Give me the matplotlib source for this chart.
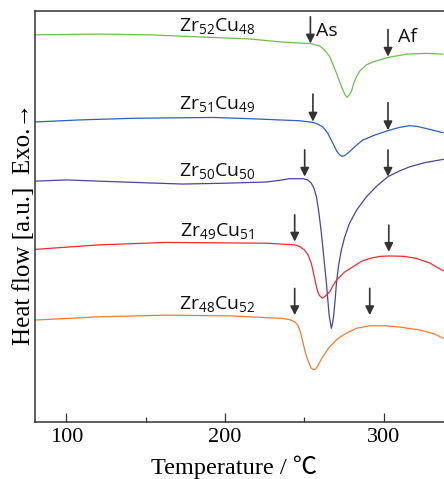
import numpy as np
import matplotlib
matplotlib.use("Agg")
import matplotlib.pyplot as plt

plt.rcParams['mathtext.fontset'] = 'custom'
plt.rcParams['mathtext.rm'] = 'Open Sans'
plt.rcParams['mathtext.it'] = 'Open Sans'

# DSC heating curves, temperature (C) vs heat flow (a.u., offset per curve)
t_52 = [80.0, 121.0, 152.5, 184.0, 215.6, 234.4, 247.1, 253.8, 259.7, 262.8, 266.0, 267.9, 270.2,
        272.3, 274.2, 275.7, 276.9, 278.3, 279.6, 281.1, 282.8, 284.9, 289.1, 293.1, 297.5,
        302.7, 314.3, 326.9, 337.2]
hf_52 = [94.2, 94.4, 94.2, 93.7, 93.2, 92.5, 92.2, 92.1, 91.5, 90.5, 88.9, 87.1, 84.9,
         82.7, 80.8, 79.6, 79.0, 79.6, 80.4, 82.4, 84.0, 85.4, 86.9, 87.6, 88.1,
         88.7, 89.5, 89.7, 89.5]

t_51 = [80.0, 108.4, 141.8, 192.2, 215.6, 234.4, 247.1, 255.4, 258.4, 261.6, 264.7, 267.9, 270.4,
        272.0, 273.3, 274.8, 276.0, 278.5, 282.4, 286.8, 294.3, 302.7, 310.1, 316.4, 321.4,
        325.8, 332.1, 337.2]
hf_51 = [73.0, 73.5, 73.9, 74.1, 73.8, 73.5, 73.3, 72.9, 72.5, 71.8, 70.3, 67.9, 65.9,
         65.1, 64.7, 64.7, 65.0, 65.8, 67.2, 68.6, 69.8, 70.9, 71.7, 72.1, 71.9,
         71.5, 70.9, 70.4]

t_50 = [80.0, 100.0, 121.0, 150.0, 173.3, 200.0, 226.1, 234.4, 240.7, 249.1, 252.1, 254.4, 256.0,
        257.6, 259.1, 260.7, 262.3, 263.9, 265.6, 267.0, 267.9, 268.5, 269.4, 270.2, 271.6,
        273.3, 275.4, 278.5, 283.0, 289.1, 295.6, 302.7, 310.1, 316.4, 325.8, 337.4]
hf_50 = [58.6, 58.9, 58.6, 58.2, 57.9, 58.1, 58.4, 58.8, 59.2, 59.2, 58.9, 58.1, 56.9,
         54.8, 51.1, 46.0, 39.9, 33.8, 26.0, 22.8, 24.3, 26.0, 29.7, 33.8, 38.2,
         41.8, 45.0, 48.4, 51.6, 54.8, 57.4, 59.7, 61.1, 62.1, 63.1, 63.9]

t_49 = [80.0, 121.0, 163.0, 226.1, 243.9, 247.1, 250.2, 252.4, 254.4, 255.9, 257.6, 258.7, 259.7,
        261.4, 263.4, 266.0, 267.9, 270.2, 275.4, 280.7, 286.1, 291.2, 297.5, 303.8, 313.2,
        320.6, 329.0, 337.4]
hf_49 = [42.0, 43.1, 43.7, 43.5, 43.1, 42.7, 41.8, 40.6, 38.6, 36.0, 32.9, 31.4, 30.7,
         30.1, 30.7, 31.7, 33.1, 34.5, 36.5, 37.8, 39.1, 39.8, 40.3, 40.4, 40.3,
         39.8, 38.7, 36.8]

t_48 = [80.0, 121.0, 163.0, 204.8, 236.3, 240.7, 243.9, 245.8, 247.1, 248.6, 250.2, 251.5, 252.7,
        254.3, 255.9, 257.1, 258.4, 260.0, 261.7, 265.3, 270.2, 275.4, 282.8, 291.2, 301.7,
        310.1, 322.7, 332.1, 337.4]
hf_48 = [24.8, 25.6, 26.0, 25.8, 25.2, 24.9, 24.4, 23.6, 22.4, 20.2, 17.5, 15.8, 14.6,
         13.1, 12.7, 12.9, 13.6, 14.8, 15.9, 18.0, 20.0, 21.4, 22.8, 23.4, 23.4,
         23.1, 22.4, 21.4, 20.4]

labels = [r'$\mathrm{Zr_{52}Cu_{48}}$', r'$\mathrm{Zr_{51}Cu_{49}}$', r'$\mathrm{Zr_{50}Cu_{50}}$',
          r'$\mathrm{Zr_{49}Cu_{51}}$', r'$\mathrm{Zr_{48}Cu_{52}}$']
label_y = [96.4, 77.4, 61.1, 46.5, 28.8]
colors = ['#6cc04a', '#2d5fb8', '#4b43a0', '#ee2d2d', '#f47c30']

# As / Af arrow positions (temperature, top of arrow, tip of arrow)
as_t = [253.8, 255.4, 250.2, 243.9, 243.9]
as_top = [98.6, 79.8, 66.2, 50.4, 32.5]
as_tip = [92.1, 73.1, 59.7, 43.9, 26.0]
af_t = [302.7, 302.7, 302.7, 303.2, 291.2]
af_top = [95.5, 77.7, 66.2, 47.9, 32.5]
af_tip = [88.9, 71.0, 59.7, 41.4, 26.0]

curves = [(t_52, hf_52), (t_51, hf_51), (t_50, hf_50), (t_49, hf_49), (t_48, hf_48)]

fig = plt.figure(figsize=(4.44, 4.79), dpi=100)
ax = fig.add_axes([0.078, 0.119, 0.922, 0.858])

for (t, hf), c in zip(curves, colors):
    ax.plot(t, hf, color=c, lw=0.9)

for lab, y in zip(labels, label_y):
    ax.text(195.4, y, lab, fontsize=14, ha='center', va='center', color='#111111')

arrow_kw = dict(arrowstyle='-|>', color='#333333', lw=1.2, mutation_scale=13,
                shrinkA=0, shrinkB=0)
for i in range(5):
    ax.annotate('', xy=(as_t[i], as_tip[i]), xytext=(as_t[i], as_top[i]), arrowprops=arrow_kw)
    ax.annotate('', xy=(af_t[i], af_tip[i]), xytext=(af_t[i], af_top[i]), arrowprops=arrow_kw)

ax.text(257.5, 95.1, 'As', fontsize=14, family='Open Sans', ha='left', va='center', color='#111111')
ax.text(309.0, 93.7, 'Af', fontsize=14, family='Open Sans', ha='left', va='center', color='#111111')

ax.set_xlim(80, 338)
ax.set_ylim(0, 100)
ax.set_xticks([100, 200, 300])
ax.set_xticks([150, 250], minor=True)
ax.set_yticks([])
ax.tick_params(axis='x', which='major', direction='in', length=6.5, width=0.9, color='#333333',
               labelsize=16, pad=4)
ax.tick_params(axis='x', which='minor', direction='in', length=3.5, width=0.9, color='#333333')
for lab in ax.get_xticklabels():
    lab.set_family('Liberation Serif')
ax.spines['right'].set_visible(False)
for s in ['left', 'top', 'bottom']:
    ax.spines[s].set_linewidth(1.1)
    ax.spines[s].set_color('#333333')

fig.text(234 / 444, 1 - 467 / 479, 'Temperature / \u2103', fontsize=17.5, ha='center', va='center',
         family=['Liberation Serif', 'Noto Sans CJK JP'])
fig.text(24 / 444, 1 - 224 / 479, 'Heat flow [a.u.]  Exo.\u2192', fontsize=18, ha='center',
         va='center', rotation=90, family=['Liberation Serif', 'DejaVu Sans'])

fig.savefig('out.png', dpi=100)
